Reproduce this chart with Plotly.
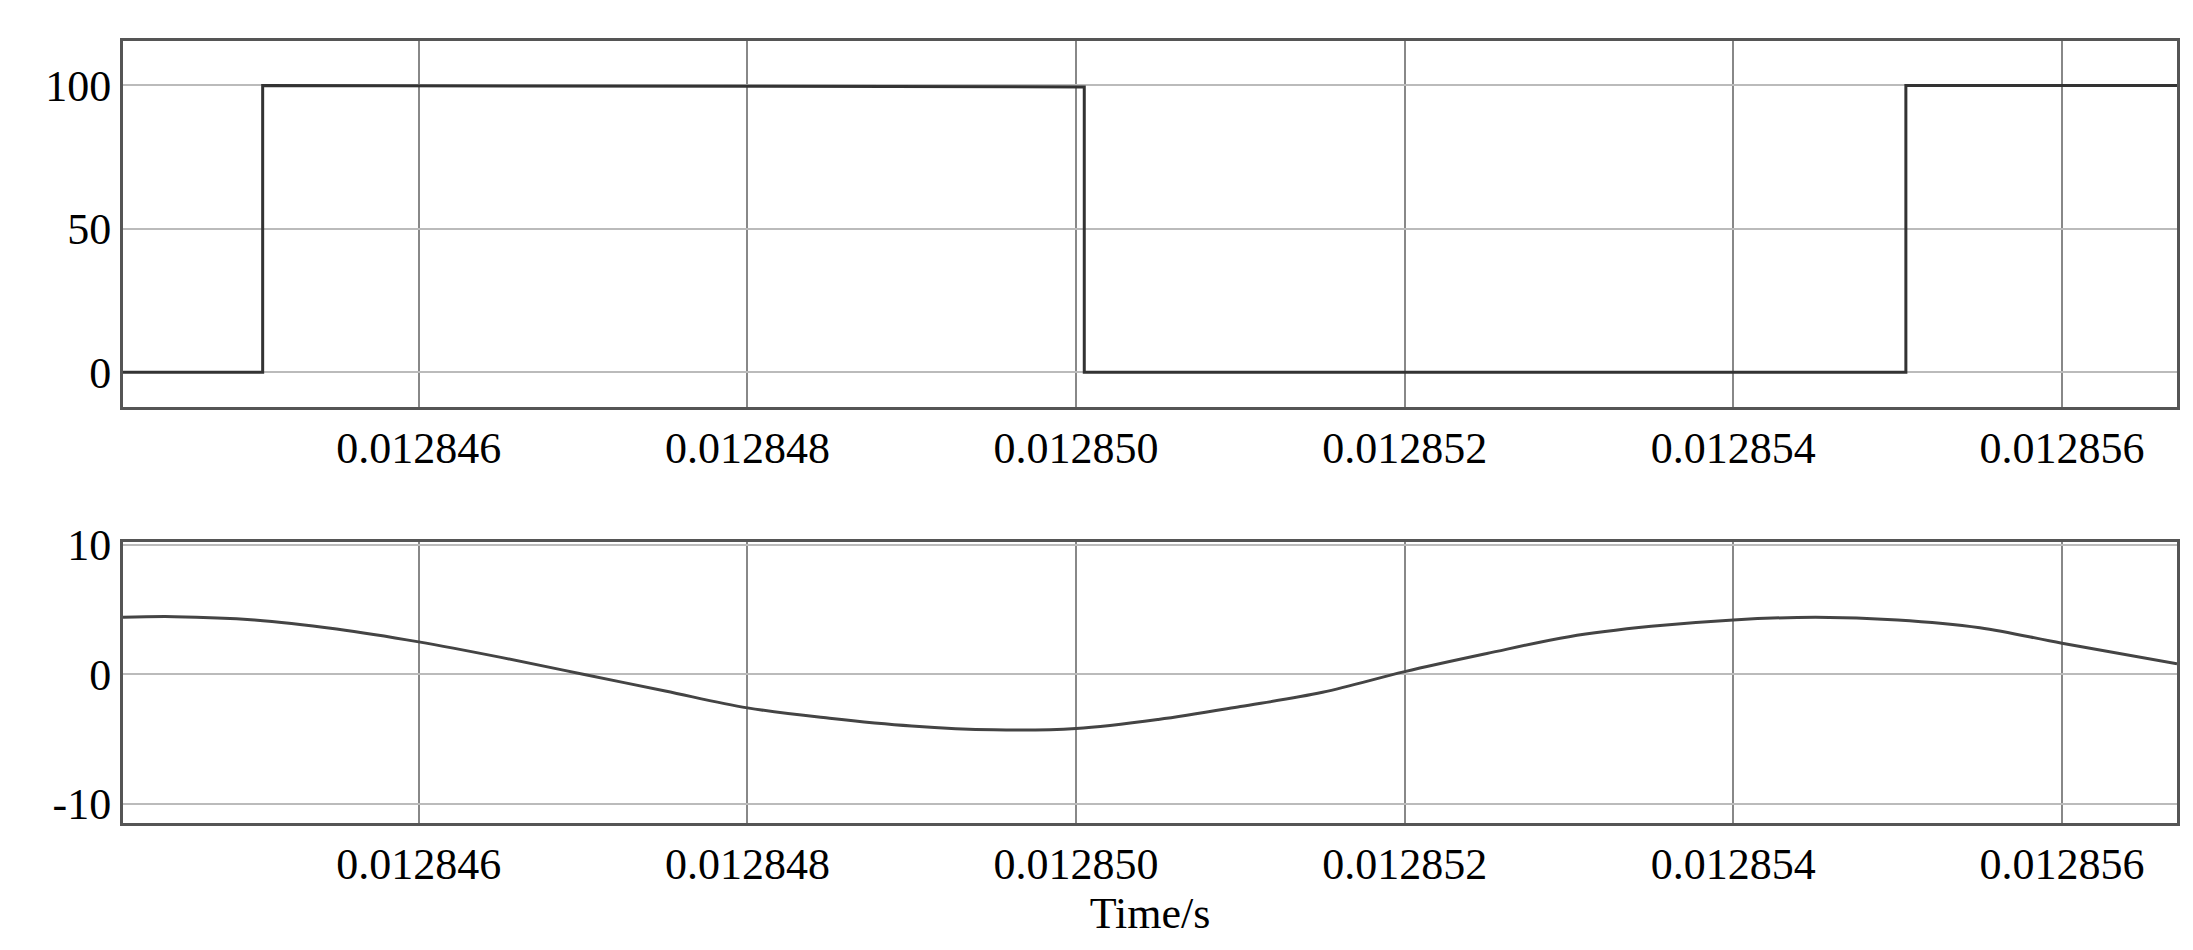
import plotly.graph_objects as go
from plotly.subplots import make_subplots

# square wave
t_sq = [0.0128442, 0.01284505, 0.01284505, 0.01285005, 0.01285005, 0.01285505, 0.01285505, 0.0128567]
v_sq = [0, 0, 100, 99.5, 0, 0, 100, 100]

# current-like sinusoid
t_s = [0.0128442, 0.012844511, 0.012845, 0.0128455, 0.012846, 0.0128465, 0.012847, 0.0128475, 0.012848,
       0.0128485, 0.012849, 0.0128495, 0.01285, 0.0128505, 0.012851, 0.0128515, 0.012852, 0.0128525,
       0.012853, 0.0128535, 0.012854, 0.0128545, 0.012855, 0.0128555, 0.012856, 0.0128567]
v_s = [4.4, 4.45, 4.2, 3.5, 2.5, 1.3, 0.0, -1.3, -2.6, -3.4, -4.0, -4.3, -4.2, -3.5, -2.5, -1.4, 0.2, 1.6,
       2.9, 3.7, 4.2, 4.4, 4.2, 3.6, 2.4, 0.8]

ticks = [0.012846, 0.012848, 0.012850, 0.012852, 0.012854, 0.012856]
ticktext = ["0.012846", "0.012848", "0.012850", "0.012852", "0.012854", "0.012856"]

fig = make_subplots(rows=2, cols=1)
fig.add_trace(go.Scatter(x=t_sq, y=v_sq, mode="lines", line=dict(color="#333333", width=3)), row=1, col=1)
fig.add_trace(go.Scatter(x=t_s, y=v_s, mode="lines", line=dict(color="#444444", width=3, shape="spline")), row=2, col=1)

font = dict(family="Liberation Serif", size=44, color="black")
for r in (1, 2):
    fig.update_xaxes(range=[0.0128442, 0.0128567], tickvals=ticks, ticktext=ticktext,
                     showgrid=True, gridcolor="#888888", gridwidth=1.5,
                     showline=True, linecolor="#555555", linewidth=3, mirror=True,
                     ticks="", tickfont=font, row=r, col=1)
    fig.update_yaxes(showgrid=True, gridcolor="#bbbbbb", gridwidth=1.5, zeroline=False,
                     showline=True, linecolor="#555555", linewidth=3, mirror=True,
                     ticks="", tickfont=font, row=r, col=1)
fig.update_yaxes(range=[-12.1, 115.5], tickvals=[0, 50, 100], domain=[0.532, 1], row=1, col=1)
fig.update_yaxes(range=[-11.5, 10.2], tickvals=[-10, 0, 10], ticktext=["-10", "0", "10"],
                 domain=[0, 0.359], row=2, col=1)
fig.update_xaxes(title=dict(text="Time/s", font=font, standoff=2), row=2, col=1)

fig.update_layout(width=2193, height=950, showlegend=False, plot_bgcolor="white", paper_bgcolor="white",
                  margin=dict(l=115, r=24, t=25, b=135))
fig.write_html("out.html")
